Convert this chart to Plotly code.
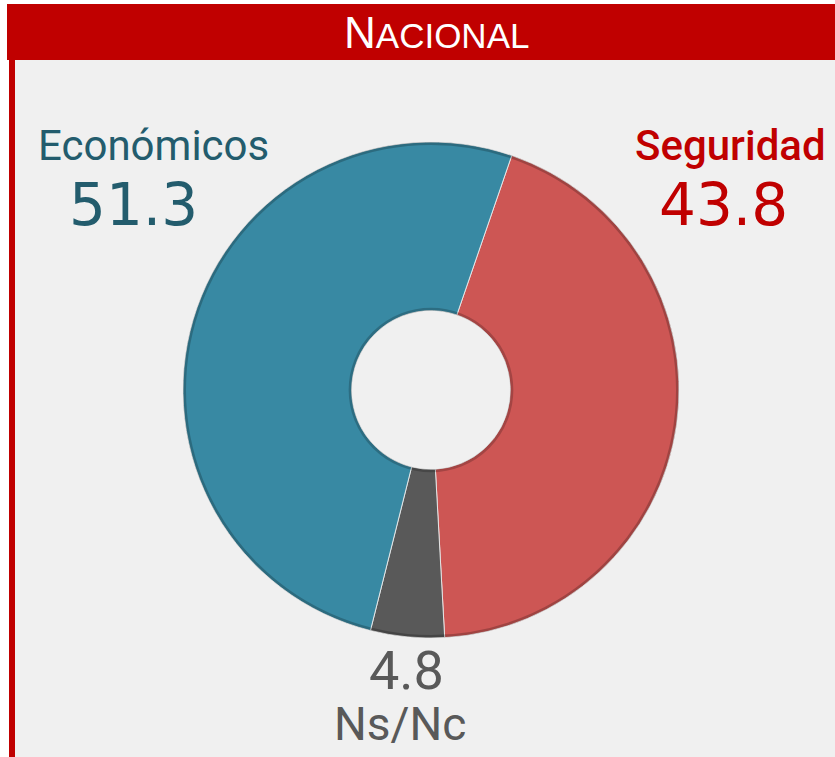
import plotly.graph_objects as go

# Data
categories = ["Seguridad", "Ns/Nc", "Económicos"]
values = [43.8, 4.8, 51.3]
colors = ["#cd5654", "#595959", "#3889a3"]
title_text = "NACIONAL"

W, H = 835, 757
CX, CY, R = 431, 390, 248
HOLE = 0.32


def px(x):
    return x / W


def py(y):
    return 1 - y / H


fig = go.Figure()

fig.add_trace(go.Pie(
    labels=categories,
    values=values,
    sort=False,
    direction="clockwise",
    rotation=19,
    hole=HOLE,
    marker=dict(colors=colors, line=dict(color="rgba(235,235,235,0.9)", width=1)),
    textinfo="none",
    hoverinfo="label+value",
    showlegend=False,
    domain=dict(x=[px(CX - R), px(CX + R)], y=[py(CY + R), py(CY - R)]),
))

shapes = [
    # gray panel background
    dict(type="rect", xref="paper", yref="paper", x0=px(15), x1=1, y0=0, y1=py(60),
         fillcolor="#f0f0f0", line=dict(width=0), layer="below"),
    # left red border
    dict(type="rect", xref="paper", yref="paper", x0=px(9), x1=px(15), y0=0, y1=py(58),
         fillcolor="#c00000", line=dict(width=0), layer="below"),
    # title bar
    dict(type="rect", xref="paper", yref="paper", x0=px(7), x1=1, y0=py(60), y1=py(4),
         fillcolor="#c00000", line=dict(width=0), layer="below"),
    # bevel shading: outer edge
    dict(type="circle", xref="paper", yref="paper",
         x0=px(CX - R + 1.5), x1=px(CX + R - 1.5), y0=py(CY + R - 1.5), y1=py(CY - R + 1.5),
         line=dict(color="rgba(0,0,0,0.22)", width=3), layer="above"),
    # bevel shading: inner edge
    dict(type="circle", xref="paper", yref="paper",
         x0=px(CX - R * HOLE - 1.5), x1=px(CX + R * HOLE + 1.5),
         y0=py(CY + R * HOLE + 1.5), y1=py(CY - R * HOLE - 1.5),
         line=dict(color="rgba(0,0,0,0.2)", width=3), layer="above"),
]

font_words = "Roboto, Open Sans, DejaVu Sans, sans-serif"
font_nums = "DejaVu Sans, Verdana, sans-serif"

annotations = [
    dict(text="<span style='font-size:44px'>" + title_text[0] + "</span>" + title_text[1:],
         x=px(437), y=py(33), xref="paper", yref="paper", showarrow=False,
         font=dict(family="Liberation Sans Narrow, Liberation Sans, Arial, sans-serif", size=35, color="white"),
         xanchor="center", yanchor="middle"),
    dict(text=categories[2], x=px(153), y=py(146), xref="paper", yref="paper", showarrow=False,
         font=dict(family=font_words, size=42, color="#235c6d"), xanchor="center", yanchor="middle"),
    dict(text=f"{values[2]:.1f}", x=px(133), y=py(205), xref="paper", yref="paper", showarrow=False,
         font=dict(family=font_nums, size=58, color="#235c6d"), xanchor="center", yanchor="middle"),
    dict(text=categories[0], x=px(730), y=py(146), xref="paper", yref="paper", showarrow=False,
         font=dict(family=font_words, size=42, color="#c00000", weight=500), xanchor="center", yanchor="middle"),
    dict(text=f"{values[0]:.1f}", x=px(723), y=py(205), xref="paper", yref="paper", showarrow=False,
         font=dict(family=font_nums, size=58, color="#c00000"), xanchor="center", yanchor="middle"),
    dict(text=f"{values[1]:.1f}", x=px(406), y=py(670), xref="paper", yref="paper", showarrow=False,
         font=dict(family=font_words, size=54, color="#595959"), xanchor="center", yanchor="middle"),
    dict(text=categories[1], x=px(400), y=py(724), xref="paper", yref="paper", showarrow=False,
         font=dict(family=font_words, size=46, color="#595959"), xanchor="center", yanchor="middle"),
]

fig.update_layout(
    width=W, height=H,
    margin=dict(l=0, r=0, t=0, b=0),
    paper_bgcolor="white",
    plot_bgcolor="white",
    shapes=shapes,
    annotations=annotations,
)

fig.write_html("out.html", config={"displayModeBar": False},
               post_script="document.body.style.margin='0';")
